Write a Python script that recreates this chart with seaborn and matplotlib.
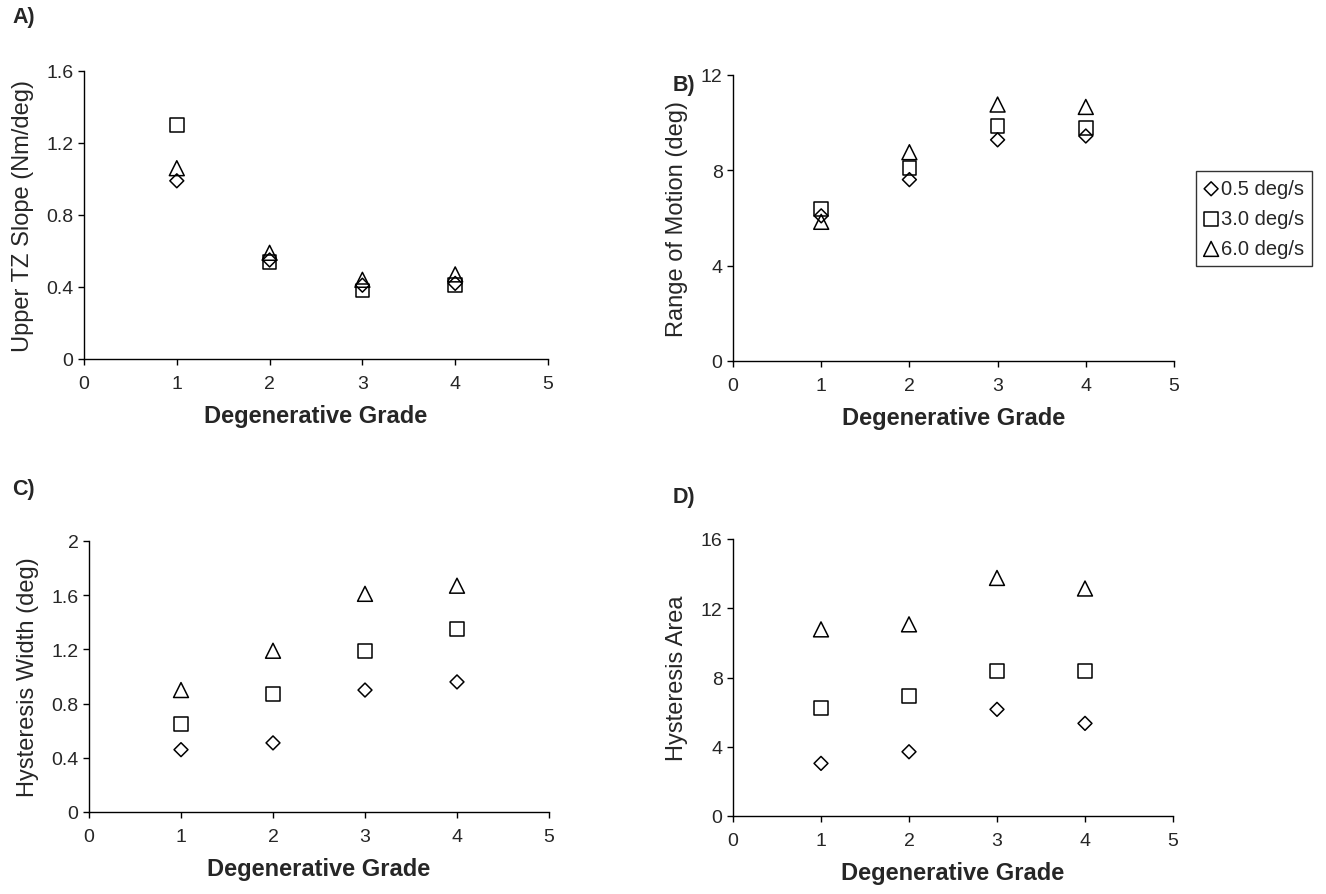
import numpy as np
import pandas as pd
import matplotlib
matplotlib.use('Agg')
import matplotlib.pyplot as plt
import seaborn as sns

sns.set_style('ticks')
plt.rcParams['font.family'] = ['Liberation Sans', 'DejaVu Sans']

# data
grades = [1, 2, 3, 4]
rates = ['0.5 deg/s', '3.0 deg/s', '6.0 deg/s']

tz_slope_05 = [0.99, 0.55, 0.41, 0.42]
tz_slope_30 = [1.30, 0.54, 0.38, 0.41]
tz_slope_60 = [1.06, 0.59, 0.44, 0.47]

rom_05 = [6.09, 7.61, 9.28, 9.44]
rom_30 = [6.37, 8.09, 9.86, 9.77]
rom_60 = [5.84, 8.76, 10.76, 10.66]

hw_05 = [0.46, 0.51, 0.90, 0.96]
hw_30 = [0.65, 0.87, 1.19, 1.35]
hw_60 = [0.90, 1.19, 1.61, 1.67]

ha_05 = [3.04, 3.71, 6.16, 5.35]
ha_30 = [6.25, 6.92, 8.36, 8.36]
ha_60 = [10.78, 11.07, 13.75, 13.14]

panels = [
    ('A)', 'Upper TZ Slope (Nm/deg)', [tz_slope_05, tz_slope_30, tz_slope_60],
     [0, 0.4, 0.8, 1.2, 1.6], ['0', '0.4', '0.8', '1.2', '1.6']),
    ('B)', 'Range of Motion (deg)', [rom_05, rom_30, rom_60],
     [0, 4, 8, 12], ['0', '4', '8', '12']),
    ('C)', 'Hysteresis Width (deg)', [hw_05, hw_30, hw_60],
     [0, 0.4, 0.8, 1.2, 1.6, 2.0], ['0', '0.4', '0.8', '1.2', '1.6', '2']),
    ('D)', 'Hysteresis Area', [ha_05, ha_30, ha_60],
     [0, 4, 8, 12, 16], ['0', '4', '8', '12', '16']),
]

# axes boxes in pixels (left, right, top, bottom) of the 1326x895 canvas
W, H = 1326, 895
px_boxes = [
    (84, 548, 72, 360),
    (733, 1174, 76, 362),
    (89, 549, 542, 813),
    (733, 1173, 540, 817),
]
letter_pos = [(12, 18), (673, 85), (12, 490), (673, 498)]

markers = ['D', 's', '^']
sizes = [50, 95, 115]

fig = plt.figure(figsize=(13.26, 8.95), dpi=100)

for (letter, ylab, series, yt, ytl), (l, r, t, b), lp in zip(panels, px_boxes, letter_pos):
    ax = fig.add_axes([l / W, 1 - b / H, (r - l) / W, (b - t) / H])
    for vals, rate, m, s in zip(series, rates, markers, sizes):
        df = pd.DataFrame({'grade': grades, 'value': vals})
        sns.scatterplot(data=df, x='grade', y='value', marker=m, s=s,
                        facecolor='none', edgecolor='black', linewidth=1.1,
                        label=rate, legend=False, ax=ax, clip_on=False)
    ax.set_xlim(0, 5)
    ax.set_ylim(yt[0], yt[-1])
    ax.set_xticks(range(6))
    ax.set_yticks(yt)
    ax.set_yticklabels(ytl)
    ax.tick_params(labelsize=14, length=4.5, width=1, color='black')
    ax.tick_params(axis='x', pad=7)
    ax.tick_params(axis='y', pad=3)
    ax.set_xlabel('Degenerative Grade', fontsize=17, fontweight='bold', labelpad=9)
    ax.set_ylabel(ylab, fontsize=17, labelpad=9)
    sns.despine(ax=ax)
    for sp in ['left', 'bottom']:
        ax.spines[sp].set_color('black')
        ax.spines[sp].set_linewidth(1.0)
    fig.text(lp[0] / W, 1 - lp[1] / H, letter, fontsize=15.5,
             fontweight='bold', va='center', ha='left')
    if letter == 'B)':
        handles, labels = ax.get_legend_handles_labels()

leg = fig.legend(handles, labels, loc='upper left',
                 bbox_to_anchor=(1196 / W, 1 - 172 / H), borderaxespad=0,
                 frameon=True, fancybox=False, edgecolor='black', fontsize=14.5,
                 handletextpad=0.15, borderpad=0.4, labelspacing=0.55,
                 handlelength=0.7)
leg.get_frame().set_linewidth(1.0)

fig.savefig('out.png', dpi=100)
